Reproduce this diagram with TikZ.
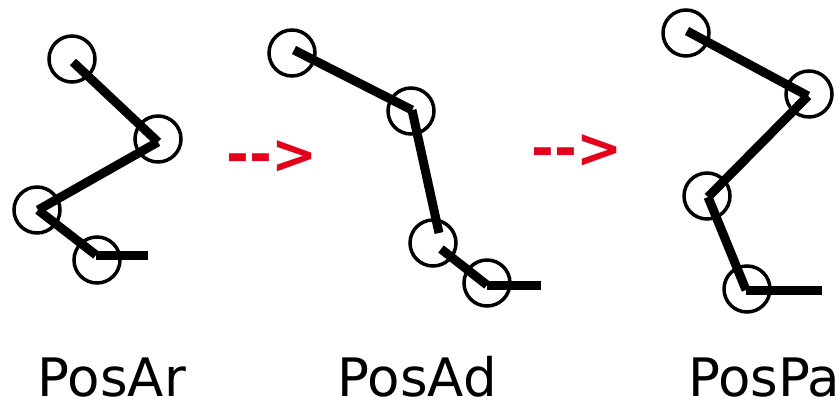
\documentclass[tikz,border=0pt]{standalone}
\usepackage{fontspec}
\setmainfont{DejaVu Sans}
\newfontfamily\arrowfont{DejaVu Sans Bold}
\definecolor{arrowred}{RGB}{226,0,26}
\begin{document}
\begin{tikzpicture}[x=1pt,y=-1pt,
  joint/.style={draw, circle, line width=3.5pt, minimum size=46pt, inner sep=0pt},
  bone/.style={line width=9pt, line cap=butt},
  lbl/.style={anchor=base west, inner sep=0pt, font=\fontsize{53}{60}\selectfont},
  arrowtxt/.style={anchor=base west, inner sep=0pt, text=arrowred, font=\arrowfont\fontsize{55}{60}\selectfont}]
\useasboundingbox (0,0) rectangle (840,401);
% figure 1
\node[joint] (a1) at (72,59) {};
\node[joint] (a2) at (158,139) {};
\node[joint] (a3) at (37,210) {};
\node[joint] (a4) at (97,260) {};
\coordinate (p1) at (73,62);
\coordinate (p2) at (158,142);
\coordinate (p3) at (38,210);
\coordinate (p4) at (96,255);
\coordinate (p5) at (148,255);
\draw[bone] (p1) -- (p2);
\draw[bone] (p2) -- (p3);
\draw[bone] (p3) -- (p4);
\draw[bone] (p4) -- (p5);
% figure 2
\node[joint] (b1) at (292,53) {};
\node[joint] (b2) at (411,111) {};
\node[joint] (b3) at (433,243) {};
\node[joint] (b4) at (487,283) {};
\coordinate (q1) at (294,50);
\coordinate (q2) at (412,110);
\coordinate (q3) at (439,233);
\coordinate (q4) at (441,249);
\coordinate (q5) at (487,285);
\coordinate (q6) at (541,285);
\draw[bone] (q1) -- (q2);
\draw[bone] (q2) -- (q3);
\draw[bone] (q4) -- (q5);
\draw[bone] (q5) -- (q6);
% figure 3
\node[joint] (c1) at (686,33) {};
\node[joint] (c2) at (809,94) {};
\node[joint] (c3) at (707,196) {};
\node[joint] (c4) at (747,289) {};
\coordinate (r1) at (687,31);
\coordinate (r2) at (808,96);
\coordinate (r3) at (708,197);
\coordinate (r4) at (746,290);
\coordinate (r5) at (822,290);
\draw[bone] (r1) -- (r2);
\draw[bone] (r2) -- (r3);
\draw[bone] (r3) -- (r4);
\draw[bone] (r4) -- (r5);
% arrows
\node[arrowtxt] (arr1) at (226,173.5) {-{}-{}>};
\node[arrowtxt] (arr2) at (531,167) {-{}-{}>};
% labels
\node[lbl] (l1) at (37.5,396) {PosAr};
\node[lbl] (l2) at (337.5,396) {PosAd};
\node[lbl] (l3) at (688,396) {PosPa};
\end{tikzpicture}
\end{document}
